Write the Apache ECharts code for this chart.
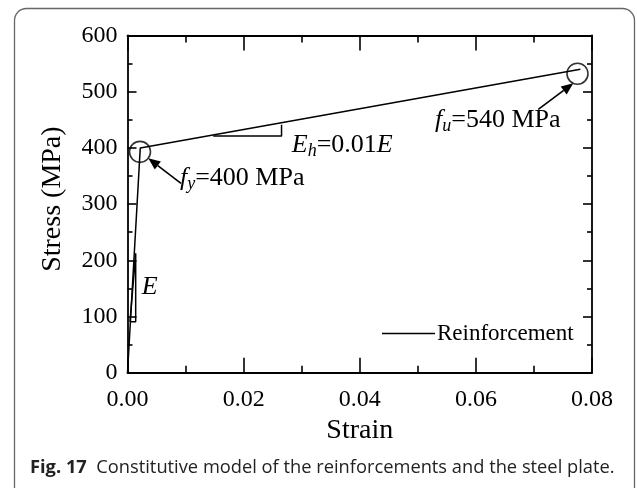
<!DOCTYPE html>
<html><head><meta charset="utf-8">
<script src="https://cdn.jsdelivr.net/npm/echarts@6/dist/echarts.min.js"></script>
<style>html,body{margin:0;padding:0;background:#fff}#c{width:637px;height:488px}</style>
</head><body><div id="c"></div>
<script>
// ---- data ----
const strain = [0, 0.0022, 0.078];
const stress = [0, 400, 540];
const xTickLabels = ['0.00', '0.02', '0.04', '0.06', '0.08'];
const yTickLabels = ['0', '100', '200', '300', '400', '500', '600'];
const seriesName = 'Reinforcement';
const xName = 'Strain';
const yName = 'Stress (MPa)';
const captionBold = 'Fig. 17';
const captionText = 'Constitutive model of the reinforcements and the steel plate.';
// annotation anchors (data space)
const circleStrain = [0.00215, 0.0775];
const circleStress = [393, 532];
const triEStrain = [0.00043, 0.00141, 0.00141, 0.00043];
const triEStress = [90.7, 90.7, 212.5, 90.7];
const triEhStrain = [0.01476, 0.02653, 0.02653];
const triEhStress = [421, 421, 441];
const arrowFromStrain = [0.00921, 0.07075];
const arrowFromStress = [337, 468.7];
const arrowToStrain = [0.00358, 0.07678];
const arrowToStress = [381.5, 515];
const labelTexts = ['{i|E}', '{i|E}{s|h}{n|=0.01}{i|E}', '{i|f}{s|y}{n|=400 MPa}', '{i|f}{s|u}{n|=540 MPa}'];
const labelStrain = [0.00245, 0.0283, 0.00904, 0.05297];
const labelStress = [153, 405, 346, 450];

const FONT = 'Liberation Serif';
const chart = echarts.init(document.getElementById('c'), null, {renderer: 'canvas'});
const zip = (a, b) => a.map((v, i) => [v, b[i]]);
const xMin = parseFloat(xTickLabels[0]), xMax = parseFloat(xTickLabels[xTickLabels.length - 1]);
const yMin = parseFloat(yTickLabels[0]), yMax = parseFloat(yTickLabels[yTickLabels.length - 1]);
const xInt = parseFloat(xTickLabels[1]) - xMin, yInt = parseFloat(yTickLabels[1]) - yMin;

const axisLine = {show: true, onZero: false, lineStyle: {color: '#000', width: 1.8}};
function xAxis(pos, labels) {
  return {
    type: 'value', position: pos, min: xMin, max: xMax, interval: xInt,
    axisLine, splitLine: {show: false},
    axisTick: {show: true, inside: true, length: 15, lineStyle: {color: '#000', width: 1.6}},
    minorTick: {show: true, splitNumber: 2, length: 7, lineStyle: {color: '#000', width: 1.6}},
    axisLabel: {show: labels, color: '#000', fontFamily: FONT, fontSize: 24, margin: 15,
      formatter: v => xTickLabels[Math.round((v - xMin) / xInt)]},
    name: labels ? xName : '', nameLocation: 'middle', nameGap: 44,
    nameTextStyle: {color: '#000', fontFamily: FONT, fontSize: 28}
  };
}
function yAxis(pos, labels) {
  return {
    type: 'value', position: pos, min: yMin, max: yMax, interval: yInt,
    axisLine, splitLine: {show: false},
    axisTick: {show: true, inside: true, length: 9, lineStyle: {color: '#000', width: 1.6}},
    minorTick: {show: true, splitNumber: 2, length: 5, lineStyle: {color: '#000', width: 1.6}},
    axisLabel: {show: labels, color: '#000', fontFamily: FONT, fontSize: 24, margin: 10,
      formatter: v => yTickLabels[Math.round((v - yMin) / yInt)]},
    name: labels ? yName : '', nameLocation: 'middle', nameGap: 61, nameRotate: 90,
    nameTextStyle: {color: '#000', fontFamily: FONT, fontSize: 28, padding: [0, 0, 0, 10]}
  };
}

const option = {
  animation: false,
  backgroundColor: '#fff',
  grid: {left: 127.5, top: 35.5, right: 45, bottom: 115.3, containLabel: false},
  xAxis: [xAxis('bottom', true), xAxis('top', false)],
  yAxis: [yAxis('left', true), yAxis('right', false)],
  legend: {
    data: [seriesName], left: 377, top: 317, itemWidth: 53, itemHeight: 12, itemGap: 6,
    icon: 'path://M0,5 L53,5 L53,6.5 L0,6.5 Z',
    textStyle: {color: '#000', fontFamily: FONT, fontSize: 23, padding: [0, 0, 0, -3]},
    itemStyle: {color: '#000'}
  },
  series: [
    {name: seriesName, type: 'line', data: zip(strain, stress), symbol: 'none',
      lineStyle: {color: '#000', width: 1.5}, itemStyle: {color: '#000'}, z: 3},
    {type: 'line', data: zip(triEStrain, triEStress), symbol: 'none', silent: true,
      lineStyle: {color: '#000', width: 1.5}},
    {type: 'line', data: zip(triEhStrain, triEhStress), symbol: 'none', silent: true,
      lineStyle: {color: '#000', width: 1.5}},
    {type: 'scatter', data: zip(circleStrain, circleStress), symbol: 'circle', symbolSize: 21, silent: true,
      itemStyle: {color: 'rgba(0,0,0,0)', borderColor: '#000', borderWidth: 1.6}}
  ]
};
chart.setOption(option);

function buildGraphics() {
  const g = [];
  g.push({type: 'rect', shape: {x: 14.5, y: 8.5, width: 620, height: 500, r: 12},
    style: {fill: 'none', stroke: '#666', lineWidth: 1.3}, silent: true});
  g.push({type: 'text', left: 30, top: 459, silent: true,
    style: {text: '{b|' + captionBold + '}  ' + captionText, fontFamily: 'Open Sans', fontSize: 18.3, fill: '#222',
      rich: {b: {fontFamily: 'Open Sans', fontSize: 18.3, fontWeight: 'bold', fill: '#222'}}}});
  // arrows
  for (let i = 0; i < arrowFromStrain.length; i++) {
    const p0 = chart.convertToPixel({gridIndex: 0}, [arrowFromStrain[i], arrowFromStress[i]]);
    const p1 = chart.convertToPixel({gridIndex: 0}, [arrowToStrain[i], arrowToStress[i]]);
    const dx = p1[0] - p0[0], dy = p1[1] - p0[1], L = Math.hypot(dx, dy);
    const ux = dx / L, uy = dy / L, hl = 12, hw = 5;
    const bx = p1[0] - ux * hl, by = p1[1] - uy * hl;
    g.push({type: 'line', silent: true, shape: {x1: p0[0], y1: p0[1], x2: bx, y2: by},
      style: {stroke: '#000', lineWidth: 1.6}});
    g.push({type: 'polygon', silent: true,
      shape: {points: [[p1[0], p1[1]], [bx - uy * hw, by + ux * hw], [bx + uy * hw, by - ux * hw]]},
      style: {fill: '#000'}});
  }
  // labels
  for (let i = 0; i < labelTexts.length; i++) {
    const p = chart.convertToPixel({gridIndex: 0}, [labelStrain[i], labelStress[i]]);
    g.push({type: 'text', x: p[0], y: p[1], silent: true,
      style: {text: labelTexts[i], align: 'left', verticalAlign: 'middle', fill: '#000',
        fontFamily: FONT, fontSize: 26,
        rich: {
          n: {fontFamily: FONT, fontSize: 26, fill: '#000'},
          i: {fontFamily: FONT, fontSize: 26, fontStyle: 'italic', fill: '#000'},
          s: {fontFamily: FONT, fontSize: 18, fontStyle: 'italic', fill: '#000', verticalAlign: 'bottom', padding: [12, 0, 0, 0]}
        }}});
  }
  chart.setOption({graphic: g});
}
buildGraphics();
</script></body></html>
